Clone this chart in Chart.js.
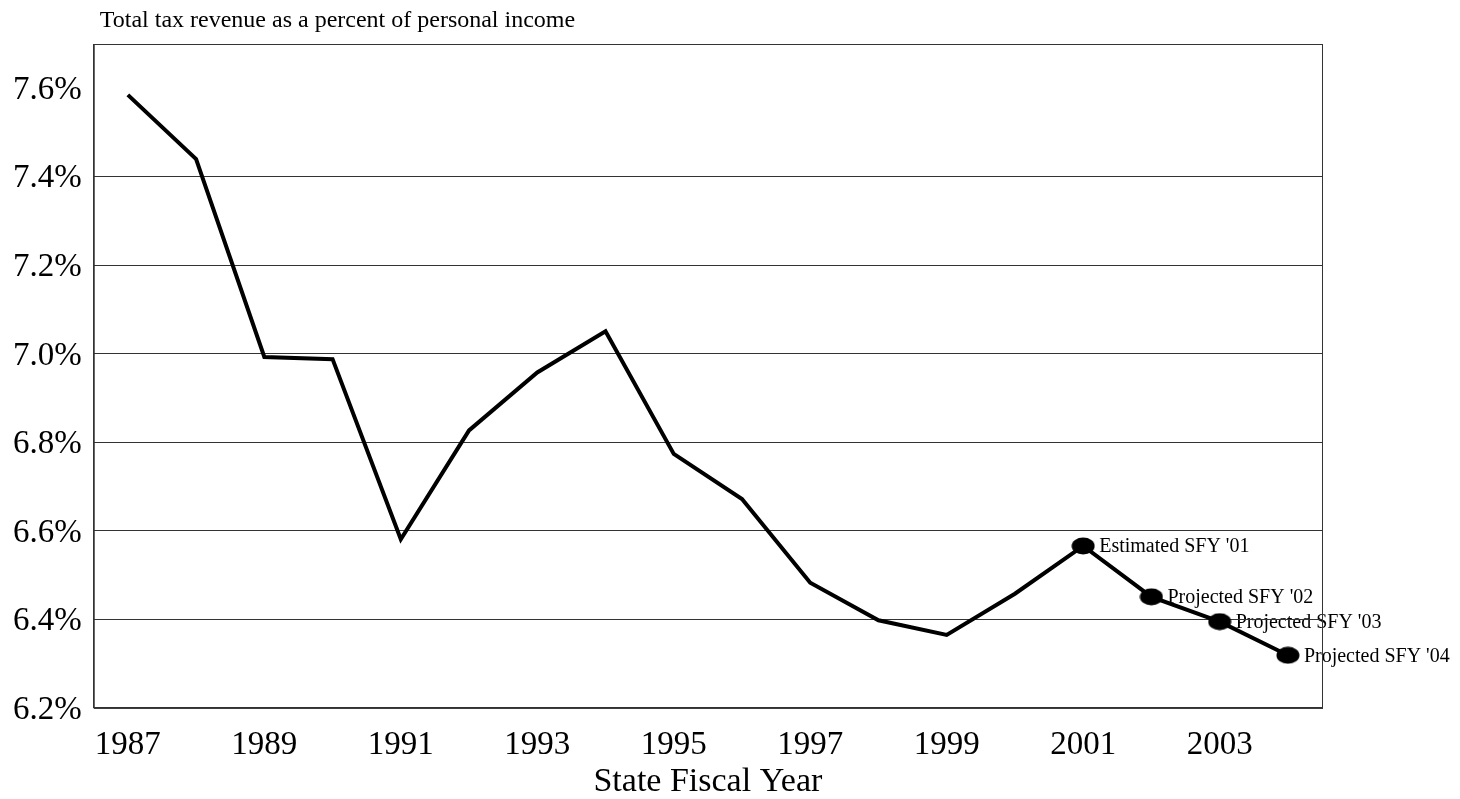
<!DOCTYPE html>
<html>
<head>
<meta charset="utf-8">
<script src="https://cdn.jsdelivr.net/npm/chart.js@4.4.1/dist/chart.umd.min.js"></script>
<style>
  html, body { margin: 0; padding: 0; background: #fff; }
  #wrap { width: 1460px; height: 799px; }
</style>
</head>
<body>
<div id="wrap"><canvas id="grafico" width="1460" height="799"></canvas></div>
<script>
// dados
const anos = ['1987', '1988', '1989', '1990', '1991', '1992', '1993', '1994', '1995',
              '1996', '1997', '1998', '1999', '2000', '2001', '2002', '2003', '2004'];
const receitaPct = [7.585, 7.44, 6.993, 6.988, 6.581, 6.827, 6.958, 7.051, 6.774,
                    6.672, 6.483, 6.398, 6.365, 6.458, 6.566, 6.451, 6.395, 6.319];
const notas = ['', '', '', '', '', '', '', '', '', '', '', '', '', '',
               "Estimated SFY '01", "Projected SFY '02", "Projected SFY '03", "Projected SFY '04"];
const yTicks = [6.2, 6.4, 6.6, 6.8, 7.0, 7.2, 7.4, 7.6];
const tituloTopo = 'Total tax revenue as a percent of personal income';
const tituloX = 'State Fiscal Year';

const fonte = "'Liberation Serif', 'Times New Roman', serif";

// marcador elíptico
const elipse = document.createElement('canvas');
elipse.width = 24;
elipse.height = 18;
(function () {
    const c = elipse.getContext('2d');
    c.fillStyle = '#000';
    c.beginPath();
    c.ellipse(12, 9, 11.5, 8.5, 0, 0, Math.PI * 2);
    c.fill();
})();

const extras = {
    id: 'extras',
    beforeDraw(chart) {
        const ctx = chart.ctx;
        const meta = chart.getDatasetMeta(0);
        ctx.save();
        ctx.fillStyle = '#000';
        ctx.font = '20px ' + fonte;
        ctx.textAlign = 'left';
        ctx.textBaseline = 'middle';
        notas.forEach((n, i) => {
            if (!n) return;
            const p = meta.data[i];
            ctx.fillText(n, p.x + 16, p.y + 1);
        });
        ctx.font = '24px ' + fonte;
        ctx.textBaseline = 'alphabetic';
        ctx.fillText(tituloTopo, chart.chartArea.left + 6, 27);
        ctx.restore();
    },
    afterDraw(chart) {
        const { ctx, chartArea: a } = chart;
        ctx.save();
        ctx.strokeStyle = '#333';
        ctx.lineWidth = 1;
        ctx.strokeRect(a.left + 0.5, a.top + 0.5, a.right - a.left, a.bottom - a.top);
        ctx.restore();
    }
};

new Chart(document.getElementById('grafico'), {
    type: 'line',
    data: {
        labels: anos,
        datasets: [{
            data: receitaPct,
            borderColor: '#000',
            backgroundColor: '#000',
            borderWidth: 4,
            borderJoinStyle: 'miter',
            tension: 0,
            pointStyle: ctx => notas[ctx.dataIndex] ? elipse : 'circle',
            pointRadius: ctx => notas[ctx.dataIndex] ? 10 : 0,
            pointHoverRadius: ctx => notas[ctx.dataIndex] ? 10 : 0
        }]
    },
    options: {
        responsive: false,
        animation: false,
        events: [],
        layout: { padding: { left: 1, top: 44, right: 138, bottom: 0 } },
        plugins: {
            legend: { display: false },
            tooltip: { enabled: false }
        },
        scales: {
            x: {
                offset: true,
                grid: { display: false, drawTicks: false },
                border: { display: true, color: '#333', width: 1 },
                ticks: {
                    autoSkip: false,
                    maxRotation: 0,
                    padding: 24.6,
                    color: '#000',
                    font: { family: fonte, size: 33, lineHeight: 0.75 },
                    callback: (v, i) => (i % 2 === 0 ? anos[i] : '')
                },
                title: {
                    display: true,
                    text: tituloX,
                    color: '#000',
                    padding: { top: -13.6, bottom: 3.5 },
                    font: { family: fonte, size: 34, lineHeight: 0.8 }
                }
            },
            y: {
                min: 6.2,
                max: 7.7,
                afterBuildTicks: axis => {
                    axis.ticks = yTicks.map(v => ({ value: v }));
                },
                grid: {
                    drawTicks: false,
                    lineWidth: 1,
                    color: ctx => (ctx.tick && Math.abs(ctx.tick.value - 7.6) < 1e-6) ? 'rgba(0,0,0,0)' : '#333'
                },
                border: { display: true, color: '#333', width: 1 },
                ticks: {
                    padding: 12,
                    labelOffset: 2,
                    color: '#000',
                    font: { family: fonte, size: 33 },
                    callback: v => v.toFixed(1) + '%'
                }
            }
        }
    },
    plugins: [extras]
});
</script>
</body>
</html>
